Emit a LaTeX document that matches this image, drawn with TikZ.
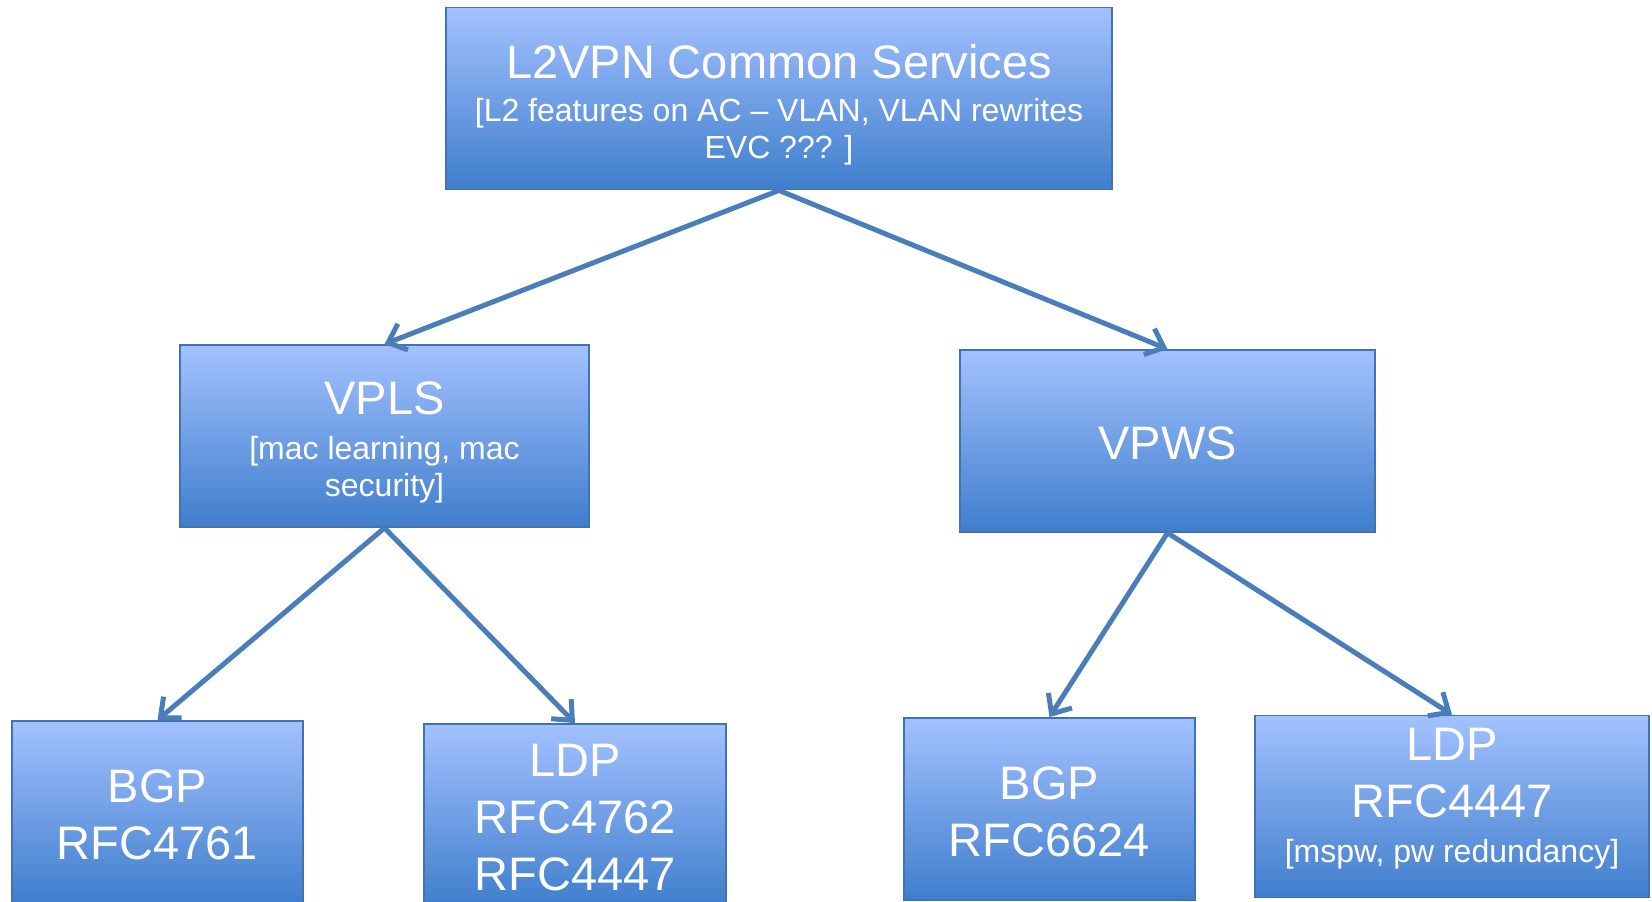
\documentclass[tikz,border=0pt]{standalone}
\usepackage{fontspec}
\setmainfont{Liberation Sans}
\usetikzlibrary{shapes,arrows.meta}

\definecolor{boxtop}{HTML}{A3C1FF}
\definecolor{boxbot}{HTML}{3F7ECC}
\definecolor{boxline}{HTML}{4272B6}
\definecolor{linkblue}{HTML}{4A7EBB}
\newcommand{\bigtxt}{\fontsize{47}{57}\selectfont}
\newcommand{\smalltxt}{\fontsize{32}{38}\selectfont}

\begin{document}
\begin{tikzpicture}[x=1pt, y=-1pt,
    box/.style={draw=boxline, line width=1.8pt, top color=boxtop, bottom color=boxbot,
        minimum height=182pt, text=white, align=center, font=\bigtxt, inner sep=0pt},
    link/.style={draw=linkblue, line width=5pt, -{Straight Barb[length=16pt, width=28pt]}}]
    \useasboundingbox (0,0) rectangle (1652,902);
    % top row
    \node[box, minimum width=666pt] (l2vpn) at (779,98.5) {\rule{0pt}{47pt}L2VPN Common Services\\[-14pt]
        {\smalltxt [L2 features on AC -- VLAN, VLAN rewrites}\\[-20pt]
        {\smalltxt EVC ??? ]}};
    % middle row
    \node[box, minimum width=409pt] (vpls) at (384.5,436) {\rule{0pt}{46pt}VPLS\\[-12pt]
        {\smalltxt [mac learning, mac}\\[-20pt]
        {\smalltxt security]}};
    \node[box, minimum width=415pt] (vpws) at (1167.5,441) {\rule{0pt}{38pt}VPWS};
    % bottom row
    \node[box, minimum width=291pt] (bgpa) at (157.5,812) {\rule{0pt}{38pt}BGP\\RFC4761};
    \node[box, minimum width=302pt] (ldpa) at (575,815) {\rule{0pt}{38pt}LDP\\RFC4762\\RFC4447};
    \node[box, minimum width=291pt] (bgpb) at (1049.5,809) {\rule{0pt}{38pt}BGP\\RFC6624};
    \node[box, minimum width=394pt] (ldpb) at (1452,806.5) {LDP\\RFC4447\\[-12pt]
        {\smalltxt [mspw, pw redundancy]\rule[-22pt]{0pt}{0pt}}};
    \draw[link] (l2vpn.south) -- (vpls.north);
    \draw[link] (l2vpn.south) -- (vpws.north);
    \draw[link] (vpls.south) -- (bgpa.north);
    \draw[link] (vpls.south) -- (ldpa.north);
    \draw[link] (vpws.south) -- (bgpb.north);
    \draw[link] (vpws.south) -- (ldpb.north);
\end{tikzpicture}
\end{document}
